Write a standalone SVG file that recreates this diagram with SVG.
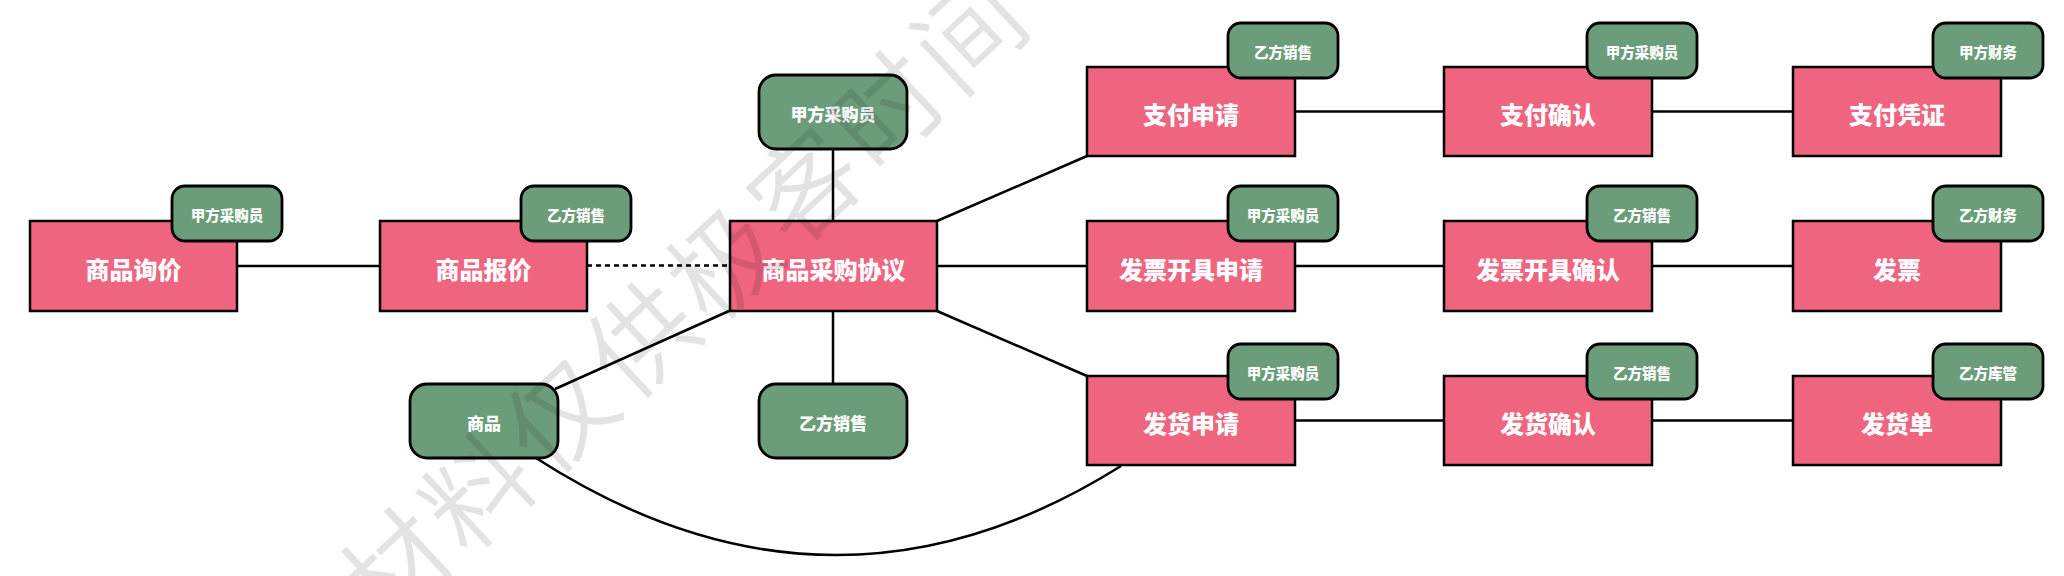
<svg xmlns="http://www.w3.org/2000/svg" width="2064" height="576" viewBox="0 0 2064 576">
<style>
.box{fill:#EF647E;stroke:#000;stroke-width:2.5}
.tag{fill:#6C9D7A;stroke:#000;stroke-width:2.8}
.lbl{font-family:"Noto Sans CJK SC","Noto Sans",sans-serif;font-weight:800;fill:#fff;text-anchor:middle;dominant-baseline:central}
.big{font-size:24px}
.sm{font-size:14.5px}
.md{font-size:17px}
.ln{fill:none;stroke:#000;stroke-width:2.5}
.wm{font-family:"Noto Sans CJK SC",sans-serif;font-weight:350;font-size:106px;fill:#000;fill-opacity:0.11;text-anchor:middle;dominant-baseline:central}
</style>
<rect width="2064" height="576" fill="#fff"/>
<g id="connectors">
<line class="ln" x1="237" y1="266" x2="379" y2="266"/>
<line class="ln" x1="587" y1="265.5" x2="729" y2="265.5" stroke-dasharray="5 4" stroke-width="2.8"/>
<line class="ln" x1="833" y1="221" x2="833" y2="149"/>
<line class="ln" x1="833" y1="311" x2="833" y2="384"/>
<line class="ln" x1="555" y1="389" x2="729" y2="311"/>
<line class="ln" x1="937" y1="221" x2="1087" y2="156"/>
<line class="ln" x1="937" y1="266" x2="1087" y2="266"/>
<line class="ln" x1="937" y1="311" x2="1087" y2="376"/>
<line class="ln" x1="1295" y1="111.5" x2="1444" y2="111.5"/>
<line class="ln" x1="1652" y1="111.5" x2="1793" y2="111.5"/>
<line class="ln" x1="1295" y1="266" x2="1444" y2="266"/>
<line class="ln" x1="1652" y1="266" x2="1793" y2="266"/>
<line class="ln" x1="1295" y1="420.5" x2="1444" y2="420.5"/>
<line class="ln" x1="1652" y1="420.5" x2="1793" y2="420.5"/>
<path class="ln" d="M536 458 Q831 648 1121 466"/>
</g>
<g id="n-xunjia">
<rect class="box" x="30" y="221" width="207" height="90"/>
<text class="lbl big" x="133.5" y="268">商品询价</text>
<rect class="tag" x="172" y="186" width="110" height="55" rx="13"/>
<text class="lbl sm" x="227" y="214">甲方采购员</text>
</g>
<g id="n-baojia">
<rect class="box" x="380" y="221" width="207" height="90"/>
<text class="lbl big" x="483.5" y="268">商品报价</text>
<rect class="tag" x="521" y="186" width="110" height="55" rx="13"/>
<text class="lbl sm" x="576" y="214">乙方销售</text>
</g>
<g id="n-xieyi">
<rect class="box" x="730" y="221" width="207" height="90"/>
<text class="lbl big" x="833.5" y="268">商品采购协议</text>
</g>
<g id="n-buyer">
<rect class="tag" x="759" y="75" width="148" height="74" rx="17"/>
<text class="lbl md" x="833" y="113">甲方采购员</text>
</g>
<g id="n-seller">
<rect class="tag" x="759" y="384" width="148" height="74" rx="17"/>
<text class="lbl md" x="833" y="422">乙方销售</text>
</g>
<g id="n-goods">
<rect class="tag" x="410" y="384" width="148" height="74" rx="17"/>
<text class="lbl md" x="484" y="422">商品</text>
</g>
<g id="n-zfsq">
<rect class="box" x="1087" y="67" width="208" height="89"/>
<text class="lbl big" x="1191" y="113.5">支付申请</text>
<rect class="tag" x="1228" y="23" width="110" height="55" rx="13"/>
<text class="lbl sm" x="1283" y="51">乙方销售</text>
</g>
<g id="n-zfqr">
<rect class="box" x="1444" y="67" width="208" height="89"/>
<text class="lbl big" x="1548" y="113.5">支付确认</text>
<rect class="tag" x="1587" y="23" width="110" height="55" rx="13"/>
<text class="lbl sm" x="1642" y="51">甲方采购员</text>
</g>
<g id="n-zfpz">
<rect class="box" x="1793" y="67" width="208" height="89"/>
<text class="lbl big" x="1897" y="113.5">支付凭证</text>
<rect class="tag" x="1933" y="23" width="110" height="55" rx="13"/>
<text class="lbl sm" x="1988" y="51">甲方财务</text>
</g>
<g id="n-fpsq">
<rect class="box" x="1087" y="221" width="208" height="90"/>
<text class="lbl big" x="1191" y="268">发票开具申请</text>
<rect class="tag" x="1228" y="186" width="110" height="55" rx="13"/>
<text class="lbl sm" x="1283" y="214">甲方采购员</text>
</g>
<g id="n-fpqr">
<rect class="box" x="1444" y="221" width="208" height="90"/>
<text class="lbl big" x="1548" y="268">发票开具确认</text>
<rect class="tag" x="1587" y="186" width="110" height="55" rx="13"/>
<text class="lbl sm" x="1642" y="214">乙方销售</text>
</g>
<g id="n-fp">
<rect class="box" x="1793" y="221" width="208" height="90"/>
<text class="lbl big" x="1897" y="268">发票</text>
<rect class="tag" x="1933" y="186" width="110" height="55" rx="13"/>
<text class="lbl sm" x="1988" y="214">乙方财务</text>
</g>
<g id="n-fhsq">
<rect class="box" x="1087" y="376" width="208" height="89"/>
<text class="lbl big" x="1191" y="422.5">发货申请</text>
<rect class="tag" x="1228" y="344" width="110" height="55" rx="13"/>
<text class="lbl sm" x="1283" y="372">甲方采购员</text>
</g>
<g id="n-fhqr">
<rect class="box" x="1444" y="376" width="208" height="89"/>
<text class="lbl big" x="1548" y="422.5">发货确认</text>
<rect class="tag" x="1587" y="344" width="110" height="55" rx="13"/>
<text class="lbl sm" x="1642" y="372">乙方销售</text>
</g>
<g id="n-fhd">
<rect class="box" x="1793" y="376" width="208" height="89"/>
<text class="lbl big" x="1897" y="422.5">发货单</text>
<rect class="tag" x="1933" y="344" width="110" height="55" rx="13"/>
<text class="lbl sm" x="1988" y="372">乙方库管</text>
</g>
<g id="watermark">
<text class="wm" x="680" y="294" letter-spacing="6" transform="rotate(-43 680 294)">材料仅供极客时间</text>
</g>
</svg>
